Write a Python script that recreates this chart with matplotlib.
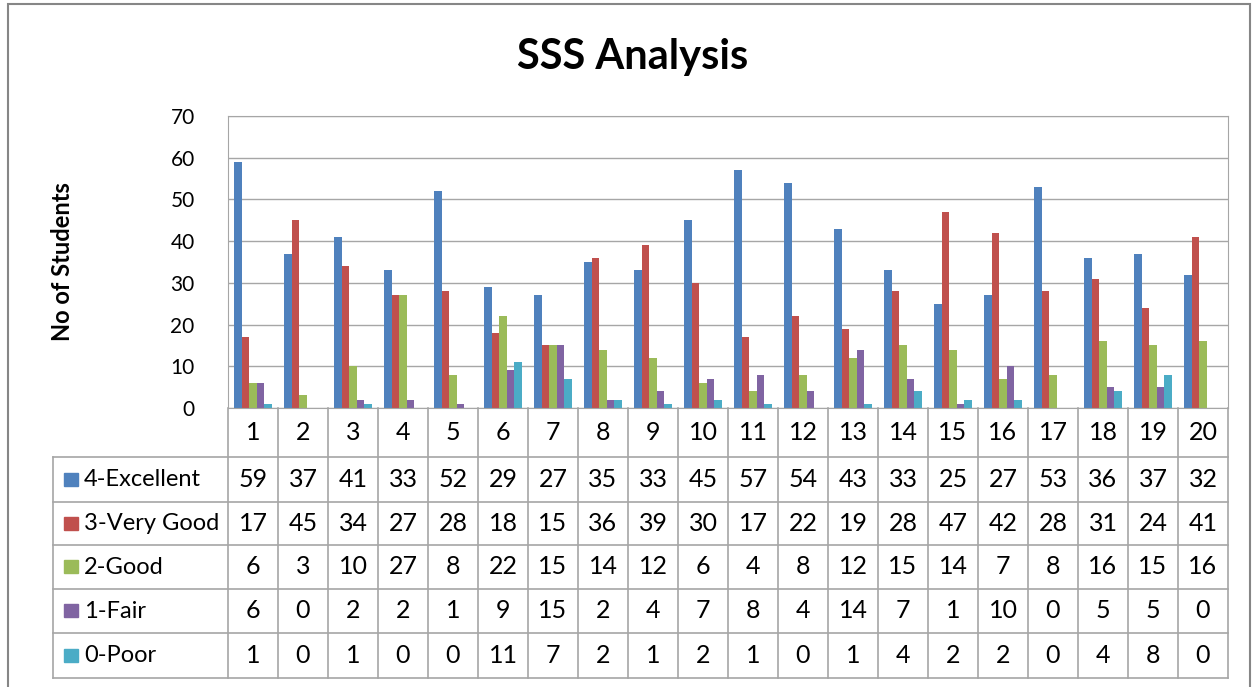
import numpy as np
import matplotlib.pyplot as plt
from matplotlib.patches import Rectangle

# data
questions = [str(i) for i in range(1, 21)]
series_names = ['4-Excellent', '3-Very Good', '2-Good', '1-Fair', '0-Poor']
excellent = [59, 37, 41, 33, 52, 29, 27, 35, 33, 45, 57, 54, 43, 33, 25, 27, 53, 36, 37, 32]
very_good = [17, 45, 34, 27, 28, 18, 15, 36, 39, 30, 17, 22, 19, 28, 47, 42, 28, 31, 24, 41]
good = [6, 3, 10, 27, 8, 22, 15, 14, 12, 6, 4, 8, 12, 15, 14, 7, 8, 16, 15, 16]
fair = [6, 0, 2, 2, 1, 9, 15, 2, 4, 7, 8, 4, 14, 7, 1, 10, 0, 5, 5, 0]
poor = [1, 0, 1, 0, 0, 11, 7, 2, 1, 2, 1, 0, 1, 4, 2, 2, 0, 4, 8, 0]
y_ticks = [0, 10, 20, 30, 40, 50, 60, 70]

series = [excellent, very_good, good, fair, poor]
colors = ['#4F81BD', '#C0504D', '#9BBB59', '#8064A2', '#4BACC6']
grid_col = '#A6A6A6'
font = 'Lato'
plt.rcParams['font.family'] = [font, 'DejaVu Sans']

W, H = 1255, 687
fig = plt.figure(figsize=(W / 100, H / 100), dpi=100)

# outer chart border
fig.patches.append(Rectangle((8 / W, -0.01), (1250 - 8) / W, (H - 4) / H + 0.01,
                             transform=fig.transFigure, fill=False,
                             edgecolor='#868686', lw=1.5))

fig.text(633 / W, 1 - 57 / H, 'SSS Analysis', ha='center', va='center',
         fontsize=30, fontweight='bold')

# bar area
ax = fig.add_axes([228 / W, (H - 408) / H, 1000 / W, 292 / H])
x = np.arange(1, 21)
bw = 0.152
for k, (vals, c) in enumerate(zip(series, colors)):
    ax.bar(x + (k - 2) * bw, vals, bw, color=c, label=series_names[k])
ax.set_xlim(0.5, 20.5)
ax.set_ylim(0, 70)
ax.set_yticks(y_ticks)
ax.set_xticks([])
ax.tick_params(axis='y', length=0, labelsize=15, pad=24)
ax.grid(axis='y', color=grid_col, lw=1)
ax.set_axisbelow(True)
for s in ax.spines.values():
    s.set_color(grid_col)
fig.text(62 / W, 1 - 262 / H, 'No of Students', rotation=90, ha='center', va='center',
         fontsize=17, fontweight='bold')

# data table below
tx = fig.add_axes([53 / W, (H - 679) / H, 1175 / W, 271 / H])
tx.set_xlim(-3.5, 20)
tx.set_ylim(679, 408)
tx.axis('off')
rows = [408, 457, 502, 545, 589, 633, 678]
lw = 1.2
for i in range(21):
    tx.plot([i, i], [408, 678], color=grid_col, lw=lw, clip_on=False)
tx.plot([-3.5, -3.5], [457, 678], color=grid_col, lw=lw, clip_on=False)
for r in rows[1:]:
    tx.plot([-3.5, 20], [r, r], color=grid_col, lw=lw, clip_on=False)

for i, q in enumerate(questions):
    tx.text(i + 0.5, (rows[0] + rows[1]) / 2, q, ha='center', va='center', fontsize=18)
for k, vals in enumerate(series):
    yc = (rows[k + 1] + rows[k + 2]) / 2
    tx.add_patch(Rectangle((-3.28, yc - 7), 0.27, 13, color=colors[k], clip_on=False))
    tx.text(-2.88, yc, series_names[k], ha='left', va='center', fontsize=17)
    for i, v in enumerate(vals):
        tx.text(i + 0.5, yc, str(v), ha='center', va='center', fontsize=18)

fig.savefig('out.png', dpi=100)
